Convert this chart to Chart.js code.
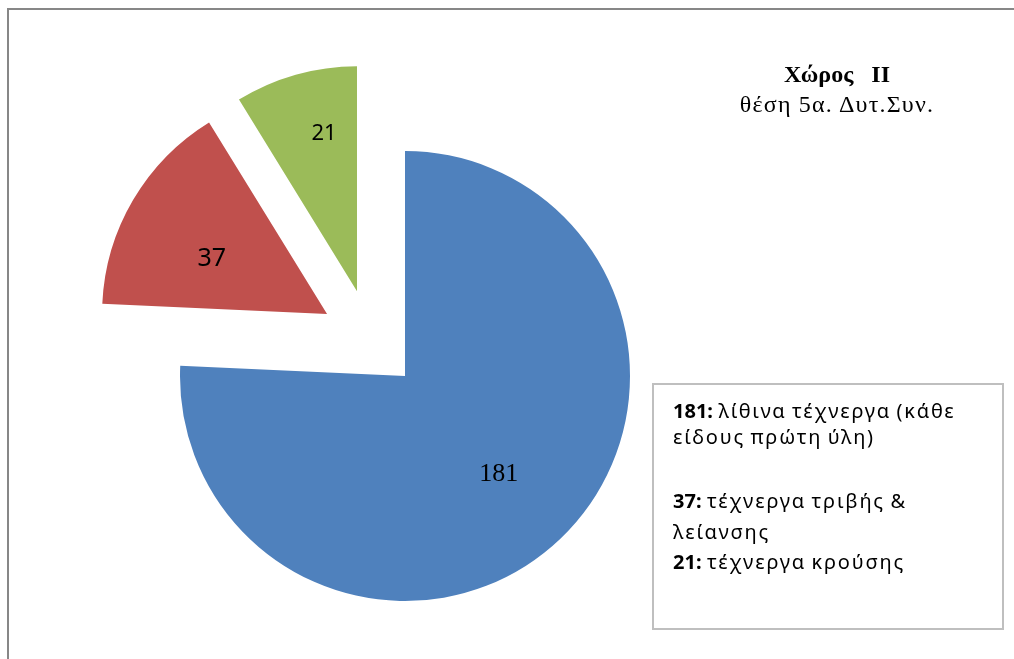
<!DOCTYPE html>
<html><head><meta charset="utf-8">
<script src="https://cdn.jsdelivr.net/npm/chart.js@4.4.1/dist/chart.umd.min.js"></script>
<style>
html,body{margin:0;padding:0;background:#fff;width:1014px;height:659px;overflow:hidden;}
#frame{position:absolute;left:7px;top:8px;width:1100px;height:800px;border-left:2px solid #878787;border-top:2px solid #878787;}
#c{position:absolute;left:0;top:0;width:1014px;height:659px;}
.t{position:absolute;left:687px;width:300px;font-family:"Liberation Serif","DejaVu Serif",serif;font-size:23px;line-height:26px;color:#000;white-space:pre;text-align:center;}
#legend{position:absolute;left:652px;top:383px;width:348px;height:243px;border:2px solid #BFBFBF;}
.l{position:absolute;left:673px;font-family:"Noto Sans",sans-serif;font-size:20px;line-height:24px;letter-spacing:1.8px;word-spacing:-1.5px;white-space:nowrap;color:#000;}
.l b{font-weight:bold;letter-spacing:0;}
</style></head>
<body>
<div id="frame"></div>
<canvas id="c" width="1014" height="659"></canvas>
<div class="t" style="top:61px;font-weight:bold;font-size:24px;">Χώρος   ΙΙ</div>
<div class="t" style="top:91px;font-size:24px;letter-spacing:1.2px;">θέση 5α. Δυτ.Συν.</div>
<div id="legend"></div>
<div id="legendText"></div>
<script>
// ---- data ----
const categories = ['λίθινα τέχνεργα (κάθε είδους πρώτη ύλη)', 'τέχνεργα τριβής & λείανσης', 'τέχνεργα κρούσης'];
const values = [181, 37, 21];
const legendLines = [
  ['λίθινα τέχνεργα (κάθε', 'είδους πρώτη ύλη)'],
  ['τέχνεργα τριβής &', 'λείανσης'],
  ['τέχνεργα κρούσης']
];
// ---- styles ----
const colors = ['#4F81BD', '#C0504D', '#9BBB59'];
const explode = [{d: 0, a: 0}, {d: 99.6, a: 308.5}, {d: 97.5, a: 330.5}];
const labelStyle = [
  {r: 0.604, da: 0, font: '26px "Liberation Serif"'},
  {r: 0.568, da: -5, font: '25px "Noto Sans"'},
  {r: 0.715, da: 4, font: '22px "Noto Sans"'}
];
const legendTops = [[399, 425], [489, 520], [550]];

// legend html
const lt = document.getElementById('legendText');
legendLines.forEach((lines, i) => {
  lines.forEach((txt, j) => {
    const d = document.createElement('div');
    d.className = 'l';
    d.style.top = legendTops[i][j] + 'px';
    if (j === 0) {
      const b = document.createElement('b');
      b.textContent = values[i] + ':';
      d.appendChild(b);
      d.appendChild(document.createTextNode(' ' + txt));
    } else {
      d.textContent = txt;
    }
    lt.appendChild(d);
  });
});

const explodePlugin = {
  id: 'explodeSlices',
  afterDatasetsUpdate(chart) {
    const meta = chart.getDatasetMeta(0);
    meta.data.forEach((arc, i) => {
      const e = explode[i];
      const rad = e.a * Math.PI / 180;
      arc.x += e.d * Math.sin(rad);
      arc.y -= e.d * Math.cos(rad);
    });
  }
};
const labelPlugin = {
  id: 'sliceLabels',
  afterDatasetsDraw(chart) {
    const ctx = chart.ctx;
    const meta = chart.getDatasetMeta(0);
    ctx.save();
    ctx.fillStyle = '#000';
    ctx.textAlign = 'center';
    ctx.textBaseline = 'middle';
    meta.data.forEach((arc, i) => {
      const s = labelStyle[i];
      const mid = (arc.startAngle + arc.endAngle) / 2 + s.da * Math.PI / 180;
      const x = arc.x + Math.cos(mid) * arc.outerRadius * s.r;
      const y = arc.y + Math.sin(mid) * arc.outerRadius * s.r;
      ctx.font = s.font;
      ctx.fillText(String(values[i]), x, y);
    });
    ctx.restore();
  }
};

new Chart(document.getElementById('c'), {
  type: 'pie',
  data: {
    labels: categories,
    datasets: [{
      data: values,
      backgroundColor: colors,
      borderWidth: 0,
      hoverOffset: 0
    }]
  },
  options: {
    responsive: false,
    animation: false,
    events: [],
    layout: {padding: {left: 0, right: 204, top: 151, bottom: 58}},
    plugins: {legend: {display: false}, tooltip: {enabled: false}, title: {display: false}}
  },
  plugins: [explodePlugin, labelPlugin]
});
</script>
</body></html>
